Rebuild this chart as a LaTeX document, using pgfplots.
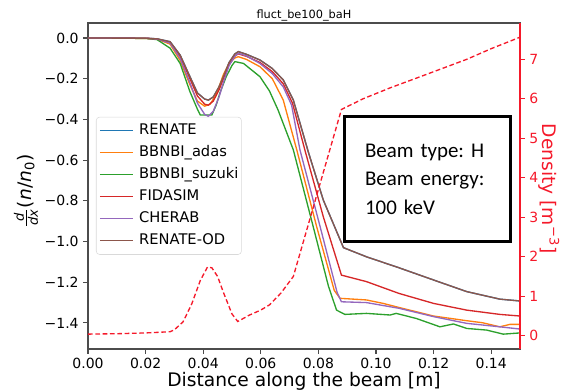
\documentclass[border=0pt]{standalone}
\usepackage{amsmath}
\usepackage{pgfplots}
\pgfplotsset{compat=1.18}
\usepackage{fontspec}
\setmainfont{DejaVu Sans}
\newfontfamily\carlito{Carlito}
\definecolor{c0}{HTML}{1F77B4}
\definecolor{c1}{HTML}{FF7F0E}
\definecolor{c2}{HTML}{2CA02C}
\definecolor{c3}{HTML}{D62728}
\definecolor{c4}{HTML}{9467BD}
\definecolor{c5}{HTML}{8C564B}
\definecolor{dens}{HTML}{F5192A}
\newcommand{\legx}[1]{\hspace*{4pt}#1}
\begin{document}
\frenchspacing
\begin{tikzpicture}
\begin{axis}[
  scale only axis, width=324pt, height=244.5pt,
  xmin=0, xmax=0.15, ymin=-1.528, ymax=0.0737,
  axis line style={black!70, line width=0.8pt},
  tick align=outside, major tick length=3.5pt,
  tick style={black!70, line width=0.8pt},
  xtick pos=bottom, ytick pos=left,
  xtick={0,0.02,0.04,0.06,0.08,0.10,0.12,0.14},
  xticklabels={0.00,0.02,0.04,0.06,0.08,0.10,0.12,0.14},
  ytick={-1.4,-1.2,-1.0,-0.8,-0.6,-0.4,-0.2,0},
  yticklabels={−1.4,−1.2,−1.0,−0.8,−0.6,−0.4,−0.2,0.0},
  ticklabel style={font=\fontsize{10.5}{12}\selectfont},
  xlabel={Distance along the beam [m]},
  xlabel style={font=\fontsize{14}{16}\selectfont, at={(axis description cs:0.5,0)}, anchor=base, yshift=-28.3pt},
  ylabel={$\frac{\textit{d}}{\textit{dx}}$(\textit{n}/\textit{n}\textsubscript{0})},
  ylabel style={font=\fontsize{14}{16}\selectfont, at={(axis description cs:-0.1435,0.485)}, anchor=center, rotate=0},
  title={fluct\_be100\_baH},
  title style={font=\fontsize{8.5}{10}\selectfont, at={(axis description cs:0.5,1)}, anchor=south, inner sep=1.5pt, yshift=-6pt},
  legend style={at={(0.0185,0.712)}, anchor=north west, draw=black!15, rounded corners=2.5pt,
    fill=white, fill opacity=0.8, text opacity=1, font=\fontsize{11}{13.2}\selectfont,
    inner xsep=2.2pt, inner ysep=3.75pt, row sep=3.5pt,
    nodes={inner xsep=0pt, inner ysep=1pt, text height=8.5pt, text depth=2.5pt}},
  legend cell align=left,
  legend image code/.code={\draw[#1, line width=1pt] (0pt,0pt) -- (25pt,0pt);},
  every axis plot/.append style={line width=1pt, mark=none},
]
\addplot[c0] coordinates {(0,0) (0.020,-0.001) (0.024,-0.004) (0.0285,-0.018) (0.032,-0.084) (0.0354,-0.19) (0.038,-0.27) (0.0405,-0.30) (0.0418,-0.305) (0.0435,-0.29) (0.0455,-0.24) (0.047,-0.19) (0.049,-0.12) (0.051,-0.078) (0.0522,-0.067) (0.055,-0.08) (0.0597,-0.108) (0.064,-0.15) (0.0678,-0.206) (0.0713,-0.305) (0.0765,-0.56) (0.0817,-0.796) (0.0887,-1.03) (0.0967,-1.075) (0.108,-1.129) (0.120,-1.189) (0.1315,-1.246) (0.143,-1.283) (0.150,-1.292)};
\addlegendentry{\legx{RENATE}}
\addplot[c1] coordinates {(0,0) (0.020,-0.002) (0.024,-0.006) (0.0285,-0.03) (0.032,-0.11) (0.0354,-0.23) (0.038,-0.31) (0.0405,-0.335) (0.0424,-0.325) (0.044,-0.29) (0.0455,-0.24) (0.047,-0.18) (0.049,-0.125) (0.051,-0.098) (0.0522,-0.092) (0.055,-0.105) (0.0597,-0.141) (0.064,-0.20) (0.0678,-0.305) (0.0725,-0.55) (0.0794,-0.927) (0.0855,-1.24) (0.0875,-1.279) (0.0967,-1.287) (0.1025,-1.304) (0.108,-1.324) (0.114,-1.345) (0.120,-1.366) (0.1315,-1.389) (0.137,-1.399) (0.143,-1.419) (0.1465,-1.407) (0.150,-1.407)};
\addlegendentry{\legx{BBNBI\_adas}}
\addplot[c2] coordinates {(0,0) (0.020,-0.002) (0.024,-0.008) (0.0285,-0.05) (0.032,-0.125) (0.0354,-0.264) (0.038,-0.35) (0.039,-0.378) (0.043,-0.378) (0.0445,-0.33) (0.0458,-0.27) (0.048,-0.19) (0.050,-0.135) (0.051,-0.116) (0.054,-0.125) (0.0597,-0.19) (0.063,-0.26) (0.066,-0.354) (0.0713,-0.55) (0.0782,-0.927) (0.0835,-1.22) (0.0863,-1.337) (0.0892,-1.358) (0.0967,-1.353) (0.1049,-1.361) (0.107,-1.353) (0.114,-1.378) (0.1222,-1.419) (0.1269,-1.405) (0.1315,-1.427) (0.1384,-1.435) (0.1442,-1.455) (0.150,-1.449)};
\addlegendentry{\legx{BBNBI\_suzuki}}
\addplot[c3] coordinates {(0,0) (0.020,-0.001) (0.024,-0.005) (0.0285,-0.022) (0.032,-0.09) (0.0354,-0.20) (0.038,-0.285) (0.0405,-0.325) (0.0418,-0.33) (0.0435,-0.31) (0.0455,-0.255) (0.047,-0.20) (0.049,-0.13) (0.051,-0.088) (0.0522,-0.078) (0.055,-0.09) (0.0597,-0.12) (0.064,-0.165) (0.0678,-0.225) (0.071,-0.32) (0.0753,-0.55) (0.0817,-0.878) (0.088,-1.165) (0.0967,-1.197) (0.108,-1.255) (0.120,-1.304) (0.1315,-1.337) (0.143,-1.358) (0.150,-1.366)};
\addlegendentry{\legx{FIDASIM}}
\addplot[c4] coordinates {(0,0) (0.020,-0.001) (0.024,-0.005) (0.0285,-0.025) (0.032,-0.10) (0.0354,-0.22) (0.038,-0.32) (0.0405,-0.375) (0.0418,-0.385) (0.0435,-0.36) (0.0455,-0.29) (0.047,-0.22) (0.049,-0.135) (0.051,-0.09) (0.0522,-0.075) (0.055,-0.088) (0.0597,-0.125) (0.064,-0.175) (0.0678,-0.24) (0.0707,-0.33) (0.0736,-0.55) (0.0806,-0.927) (0.0865,-1.25) (0.088,-1.296) (0.0967,-1.30) (0.108,-1.328) (0.120,-1.369) (0.1315,-1.402) (0.143,-1.419) (0.150,-1.43)};
\addlegendentry{\legx{CHERAB}}
\addplot[c5] coordinates {(0,0) (0.020,-0.001) (0.024,-0.004) (0.0285,-0.018) (0.032,-0.084) (0.0354,-0.19) (0.038,-0.27) (0.0405,-0.30) (0.0418,-0.305) (0.0435,-0.29) (0.0455,-0.24) (0.047,-0.19) (0.049,-0.12) (0.051,-0.078) (0.0522,-0.067) (0.055,-0.08) (0.0597,-0.108) (0.064,-0.15) (0.0678,-0.206) (0.0713,-0.305) (0.0765,-0.56) (0.0817,-0.796) (0.0887,-1.03) (0.0967,-1.075) (0.108,-1.129) (0.120,-1.189) (0.1315,-1.246) (0.143,-1.283) (0.150,-1.292)};
\addlegendentry{\legx{RENATE-OD}}
\end{axis}
\begin{axis}[
  scale only axis, width=324pt, height=244.5pt,
  xmin=0, xmax=0.15, ymin=-0.337, ymax=7.92,
  axis x line=none, axis y line*=right,
  y axis line style={dens, line width=0.8pt},
  tick align=outside, major tick length=3.5pt,
  ytick style={dens, line width=0.8pt},
  ytick={0,1,2,3,4,5,6,7},
  yticklabels={0,1,2,3,4,5,6,7},
  yticklabel style={dens, font=\fontsize{10.5}{12}\selectfont},
  ylabel={Density [m\textsuperscript{−3}]},
  ylabel style={dens, font=\fontsize{14}{16}\selectfont, at={(axis description cs:1.067,0.492)}, anchor=center, rotate=-180},
]
\addplot[dens, line width=1pt, dash pattern=on 3.5pt off 2pt, mark=none] coordinates {(0,0.04) (0.010,0.05) (0.020,0.07) (0.0285,0.10) (0.030,0.15) (0.033,0.35) (0.036,0.8) (0.039,1.4) (0.0415,1.74) (0.043,1.72) (0.045,1.5) (0.047,1.1) (0.050,0.55) (0.052,0.36) (0.056,0.52) (0.060,0.65) (0.063,0.78) (0.067,1.08) (0.0713,1.50) (0.088,5.73) (0.0955,6.0) (0.105,6.28) (0.115,6.55) (0.1315,7.0) (0.140,7.27) (0.150,7.56)};
\node[dens, font=\fontsize{11}{12}\selectfont, anchor=south east, inner sep=0pt] at (rel axis cs:1,1.012) {1e19};
\node[draw=black, line width=2.2pt, minimum width=124.5pt, minimum height=94pt, inner sep=0pt, text width=93.75pt, align=left, font=\carlito\fontsize{15.7}{21.4}\selectfont] at (rel axis cs:0.786,0.5215) {Beam type: H\\Beam energy:\\100 keV};
\end{axis}
\pgfresetboundingbox
\path[use as bounding box] (-66pt,-30.75pt) rectangle (354.75pt,261.75pt);
\end{tikzpicture}
\end{document}
